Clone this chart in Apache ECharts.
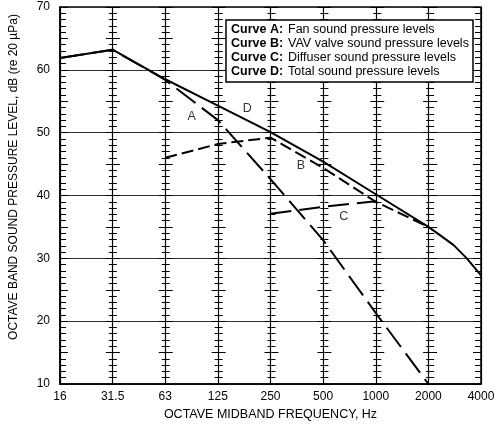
<!DOCTYPE html>
<html>
<head>
<meta charset="utf-8">
<script src="https://cdn.jsdelivr.net/npm/echarts@6/dist/echarts.min.js"></script>
<style>
  html, body { margin: 0; padding: 0; background: #fff; }
  #chart { width: 500px; height: 428px; }
</style>
</head>
<body>
<div id="chart"></div>
<script>
// octave band labels, x positions are band index 0..8
var freqLabels = ["16", "31.5", "63", "125", "250", "500", "1000", "2000", "4000"];

// Curve A: fan
var curveA = [[0, 61.9], [1, 63.2], [2, 58.4], [3, 52.0], [4, 42.6], [5, 32.9], [6, 21.3], [7, 10.0]];
// Curve B: VAV valve
var curveB = [[2, 46.0], [3, 48.2], [4, 49.2], [5, 44.4], [6, 39.0], [7, 35.0]];
// Curve C: diffuser
var curveC = [[4, 37.1], [5, 38.2], [6, 39.1]];
// Curve D: total
var curveD = [[0, 61.9], [1, 63.2], [2, 58.5], [3, 54.3], [4, 50.1], [5, 45.4], [6, 40.2], [7, 35.0],
              [7.22, 33.7], [7.48, 32.1], [7.73, 30.0], [8, 27.3]];

// letters written next to the curves
var curveNames = ["A", "D", "B", "C"];
var curveNameX = [2.5, 3.56, 4.58, 5.39];
var curveNameY = [52.5, 53.9, 44.7, 36.7];

var legendRows = [
  ["Curve A:", "Fan sound pressure levels"],
  ["Curve B:", "VAV valve sound pressure levels"],
  ["Curve C:", "Diffuser sound pressure levels"],
  ["Curve D:", "Total sound pressure levels"]
];

var FONT = "Liberation Sans, Arial, sans-serif";
var gridLeft = 58, gridRight = 19, gridTop = 7, gridBottom = 44;
var plotW = 500 - gridLeft - gridRight;

// hatch ticks along the vertical lines, done with extra y axes
function hatchAxis(k, inside, minorLen, majorLen) {
  return {
    type: "value",
    min: 10,
    max: 70,
    interval: 5,
    position: "left",
    offset: -k * plotW / 8,
    axisLine: { show: false },
    axisLabel: { show: false },
    splitLine: { show: false },
    axisTick: { show: true, inside: inside, length: majorLen, lineStyle: { color: "#000", width: 1 } },
    minorTick: { show: true, splitNumber: 5, length: minorLen, lineStyle: { color: "#000", width: 1 } }
  };
}

var yAxes = [{
  type: "value",
  min: 10,
  max: 70,
  interval: 10,
  name: "OCTAVE BAND SOUND PRESSURE LEVEL, dB (re 20 \u00b5Pa)",
  nameLocation: "middle",
  nameGap: 40,
  nameTextStyle: { fontFamily: FONT, fontSize: 12, color: "#000", padding: [0, 0, 0, 37] },
  axisLine: { show: true, lineStyle: { color: "#000", width: 1.5 } },
  axisTick: { show: false },
  axisLabel: { fontFamily: FONT, fontSize: 12, color: "#000", margin: 10 },
  splitLine: { show: true, lineStyle: { color: "#333", width: 1 } }
}];
yAxes.push(hatchAxis(0, true, 6, 8));
for (var k = 1; k < 8; k++) {
  yAxes.push(hatchAxis(k, true, 4, 7));
  yAxes.push(hatchAxis(k, false, 4, 7));
}
var rightAxis = hatchAxis(0, true, 6, 8);
rightAxis.position = "right";
yAxes.push(rightAxis);

function lineSeries(name, data, dash) {
  return {
    name: name,
    type: "line",
    data: data,
    yAxisIndex: 0,
    symbol: "none",
    silent: true,
    z: 5,
    lineStyle: { color: "#000", width: 2, type: dash }
  };
}

var labelData = [];
for (var i = 0; i < curveNames.length; i++) {
  labelData.push({ name: curveNames[i], value: [curveNameX[i], curveNameY[i]] });
}

var legendText = legendRows.map(function (r) {
  return "{b|" + r[0] + "}{n|" + r[1] + "}";
}).join("\n");

var option = {
  animation: false,
  backgroundColor: "#fff",
  grid: {
    left: gridLeft, right: gridRight, top: gridTop, bottom: gridBottom,
    show: true, borderColor: "#000", borderWidth: 1.5, backgroundColor: "transparent"
  },
  title: {
    text: legendText,
    left: 226,
    top: 20,
    backgroundColor: "#fff",
    borderColor: "#000",
    borderWidth: 1.5,
    padding: [3, 4, 3, 5],
    z: 10,
    textStyle: {
      fontFamily: FONT, fontSize: 12.5, fontWeight: "normal", color: "#000", lineHeight: 14,
      rich: {
        b: { fontFamily: FONT, fontSize: 12.5, fontWeight: "bold", color: "#000", width: 57, lineHeight: 14 },
        n: { fontFamily: FONT, fontSize: 12.5, color: "#000", lineHeight: 14 }
      }
    }
  },
  xAxis: {
    type: "value",
    min: 0,
    max: 8,
    interval: 1,
    name: "OCTAVE MIDBAND FREQUENCY, Hz",
    nameLocation: "middle",
    nameGap: 19,
    nameTextStyle: { fontFamily: FONT, fontSize: 12.5, color: "#000" },
    axisLine: { show: true, lineStyle: { color: "#000", width: 1.5 } },
    axisTick: { show: false },
    axisLabel: {
      fontFamily: FONT, fontSize: 12, color: "#000", margin: 7,
      formatter: function (v) { return freqLabels[Math.round(v)]; }
    },
    splitLine: { show: true, lineStyle: { color: "#000", width: 1.2 } }
  },
  yAxis: yAxes,
  series: [
    lineSeries("A", curveA, [24, 8]),
    lineSeries("B", curveB, [12, 5]),
    lineSeries("C", curveC, [21, 8]),
    lineSeries("D", curveD, "solid"),
    {
      type: "scatter",
      yAxisIndex: 0,
      symbolSize: 0,
      silent: true,
      data: labelData,
      label: {
        show: true,
        position: "inside",
        formatter: "{b}",
        fontFamily: FONT,
        fontSize: 12.5,
        color: "#000"
      }
    }
  ]
};

var myChart = echarts.init(document.getElementById("chart"));
myChart.setOption(option);
</script>
</body>
</html>
